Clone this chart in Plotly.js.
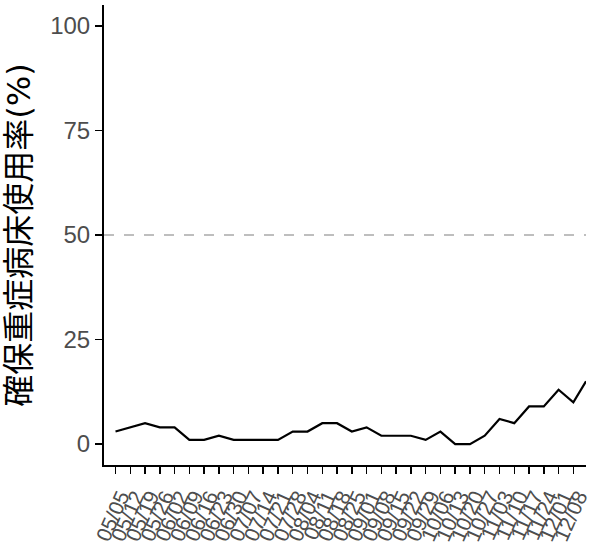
<!DOCTYPE html>
<html>
<head>
<meta charset="utf-8">
<script src="https://cdn.plot.ly/plotly-3.0.1.min.js"></script>
<style>html,body{margin:0;padding:0;background:#fff;}#chart{width:597px;height:548px;}</style>
</head>
<body>
<div id="chart"></div>
<script>
// Data
const dates = [
  '2020-05-05','2020-05-12','2020-05-19','2020-05-26','2020-06-02','2020-06-09','2020-06-16','2020-06-23',
  '2020-06-30','2020-07-07','2020-07-14','2020-07-21','2020-07-28','2020-08-04','2020-08-11','2020-08-18',
  '2020-08-25','2020-09-01','2020-09-08','2020-09-15','2020-09-22','2020-09-29','2020-10-06','2020-10-13',
  '2020-10-20','2020-10-27','2020-11-03','2020-11-10','2020-11-17','2020-11-24','2020-12-01','2020-12-08',
  '2020-12-14'
];
const usageRate = [3,4,5,4,4,1,1,2,1,1,1,1,3,3,5,5,3,4,2,2,2,1,3,0,0,2,6,5,9,9,13,10,15];

const tickDates = [
  '2020-05-05','2020-05-12','2020-05-19','2020-05-26','2020-06-02','2020-06-09','2020-06-16','2020-06-23',
  '2020-06-30','2020-07-07','2020-07-14','2020-07-21','2020-07-28','2020-08-04','2020-08-11','2020-08-18',
  '2020-08-25','2020-09-01','2020-09-08','2020-09-15','2020-09-22','2020-09-29','2020-10-06','2020-10-13',
  '2020-10-20','2020-10-27','2020-11-03','2020-11-10','2020-11-17','2020-11-24','2020-12-01','2020-12-08'
];
const tickLabels = [
  '05/05','05/12','05/19','05/26','06/02','06/09','06/16','06/23',
  '06/30','07/07','07/14','07/21','07/28','08/04','08/11','08/18',
  '08/25','09/01','09/08','09/15','09/22','09/29','10/06','10/13',
  '10/20','10/27','11/03','11/10','11/17','11/24','12/01','12/08'
];
const yTicks = [0,25,50,75,100];
const thresholdValue = 50;
const yTitle = '確保重症病床使用率(%)';

const trace = {
  x: dates,
  y: usageRate,
  type: 'scatter',
  mode: 'lines',
  line: {color: '#000000', width: 2.2},
  hoverinfo: 'skip',
  showlegend: false
};

const yTickFont = {family: 'Liberation Sans, Arial, sans-serif', size: 24, color: '#4D4D4D'};
const xTickFont = {family: 'Liberation Sans, Arial, sans-serif', size: 21, color: '#4D4D4D'};

const layout = {
  width: 597,
  height: 548,
  margin: {l: 104, r: 11, t: 5, b: 83},
  paper_bgcolor: '#ffffff',
  plot_bgcolor: '#ffffff',
  showlegend: false,
  xaxis: {
    type: 'date',
    range: ['2020-04-29 13:00', '2020-12-14 00:00'],
    tickmode: 'array',
    tickvals: tickDates,
    ticktext: tickLabels,
    tickangle: -66,
    tickfont: xTickFont,
    ticks: 'outside',
    ticklen: 7,
    tickwidth: 1.5,
    tickcolor: '#000000',
    ticklabelshift: 5,
    ticklabelstandoff: 2,
    showline: true,
    linecolor: '#000000',
    linewidth: 2,
    showgrid: false,
    zeroline: false,
    automargin: false
  },
  yaxis: {
    range: [-5, 105],
    tickmode: 'array',
    tickvals: yTicks,
    ticktext: yTicks.map(String),
    tickfont: yTickFont,
    ticks: 'outside',
    ticklen: 7,
    tickwidth: 1.5,
    tickcolor: '#000000',
    showline: true,
    linecolor: '#000000',
    linewidth: 2,
    showgrid: false,
    zeroline: false,
    automargin: false,
    title: {
      text: yTitle,
      font: {family: 'DejaVu Sans, Noto Sans CJK JP, sans-serif', size: 32, color: '#000000'},
      standoff: 10
    }
  },
  shapes: [{
    type: 'line',
    xref: 'paper', x0: 0, x1: 1,
    yref: 'y', y0: thresholdValue, y1: thresholdValue,
    line: {color: '#BEBEBE', width: 2, dash: '10px,10px'},
    layer: 'below'
  }]
};

Plotly.newPlot('chart', [trace], layout, {staticPlot: true, displayModeBar: false});
</script>
</body>
</html>
